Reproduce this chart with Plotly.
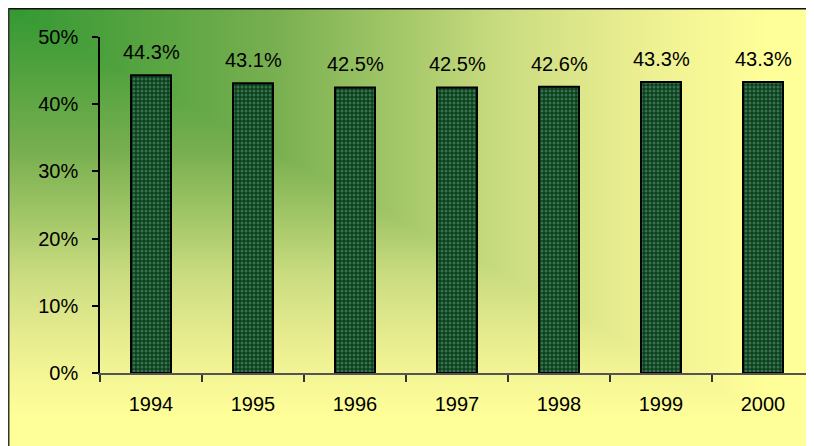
import numpy as np
import plotly.graph_objects as go

years = ["1994", "1995", "1996", "1997", "1998", "1999", "2000"]
shares = [44.3, 43.1, 42.5, 42.5, 42.6, 43.3, 43.3]
y_ticks = [0, 10, 20, 30, 40, 50]
y_tick_labels = ["0%", "10%", "20%", "30%", "40%", "50%"]

# the page body adds an 8px margin, so the figure starts at page (8, 8)
W, H = 806, 438
FONT = dict(family="Liberation Sans, Arial, sans-serif", size=20, color="black")

# background "from corner" gradient (green top-left -> pale yellow)
gx = np.linspace(1, W, 270)
gy = np.linspace(1, H, 150)
GX, GY = np.meshgrid(gx, gy)
T = np.clip(np.maximum(GX / 760.0, GY / 410.0), 0, 1)
bg_scale = [
    [0.00, "rgb(51,153,51)"], [0.12, "rgb(75,160,60)"], [0.35, "rgb(120,175,80)"],
    [0.52, "rgb(165,200,105)"], [0.65, "rgb(202,220,128)"], [0.77, "rgb(225,232,140)"],
    [0.88, "rgb(242,244,148)"], [1.00, "rgb(255,255,153)"],
]

fig = go.Figure()
fig.add_trace(go.Heatmap(
    x=gx, y=gy, z=T, zmin=0, zmax=1, zsmooth="best", showscale=False,
    colorscale=bg_scale, hoverinfo="skip", xaxis="x", yaxis="y"))

fig.add_trace(go.Bar(
    x=years, y=shares, xaxis="x2", yaxis="y2",
    marker=dict(color="#0f4a24", line=dict(color="black", width=2),
                pattern=dict(shape=".", bgcolor="#0c3d1c", fgcolor="#35744d",
                             size=4, solidity=0.45, fillmode="replace")),
    hoverinfo="skip"))

for i, v in enumerate(shares):
    fig.add_annotation(x=i, y=v, xref="x2", yref="y2", text=f"{v:.1f}%",
                       showarrow=False, yanchor="bottom", yshift=10, font=FONT)

# outer frame: only top and left edges are visible in the window
fig.add_shape(type="line", xref="paper", yref="paper", x0=0, x1=1, y0=1, y1=1,
              line=dict(color="#111111", width=3), layer="above")
fig.add_shape(type="line", xref="paper", yref="paper", x0=0, x1=0, y0=0, y1=1,
              line=dict(color="#333333", width=3), layer="above")

ydom = [(H - 365) / H, (H - 29) / H]
xdom = [92 / W, 1.0]

fig.update_layout(
    width=W, height=H, margin=dict(l=0, r=0, t=0, b=0, pad=0),
    paper_bgcolor="white", plot_bgcolor="rgba(0,0,0,0)",
    showlegend=False, bargap=0.608, font=FONT,
    xaxis=dict(domain=[0, 1], range=[0, W], visible=False, fixedrange=True,
               automargin=False),
    yaxis=dict(domain=[0, 1], range=[H, 0], visible=False, fixedrange=True,
               automargin=False),
    xaxis2=dict(domain=xdom, anchor="y2", type="category", range=[-0.5, 6.5],
                showline=True, linecolor="#555555", linewidth=1.5,
                ticks="outside", ticklen=7, tickcolor="#333333", tickwidth=1.5,
                tickson="boundaries", showgrid=False, zeroline=False,
                ticklabelstandoff=12, tickfont=FONT, automargin=False,
                fixedrange=True),
    yaxis2=dict(domain=ydom, anchor="x2", range=[0, 50], tickvals=y_ticks,
                ticktext=y_tick_labels, showline=True, linecolor="black",
                linewidth=1.5, ticks="outside", ticklen=6, tickwidth=1.5,
                tickcolor="black", showgrid=False, zeroline=False,
                ticklabelstandoff=10, tickfont=FONT, automargin=False,
                fixedrange=True),
    yaxis3=dict(domain=ydom, overlaying="y2", anchor="x2", side="left",
                range=[0, 50], tickvals=y_ticks, showticklabels=False,
                ticks="inside", ticklen=6, tickwidth=1.5, tickcolor="black",
                showline=False, showgrid=False, zeroline=False, automargin=False,
                fixedrange=True),
    xaxis3=dict(domain=xdom, overlaying="x2", anchor="y2", range=[-0.5, 6.5],
                tickvals=[i - 0.5 for i in range(len(years) + 1)],
                showticklabels=False, ticks="inside", ticklen=7, tickwidth=1.5,
                tickcolor="#333333", showline=False, showgrid=False,
                zeroline=False, automargin=False, fixedrange=True),
)

fig.write_html(
    "out.html",
    config={"displayModeBar": False},
    post_script="document.documentElement.style.overflow='hidden';"
                "document.body.style.overflow='hidden';",
)
